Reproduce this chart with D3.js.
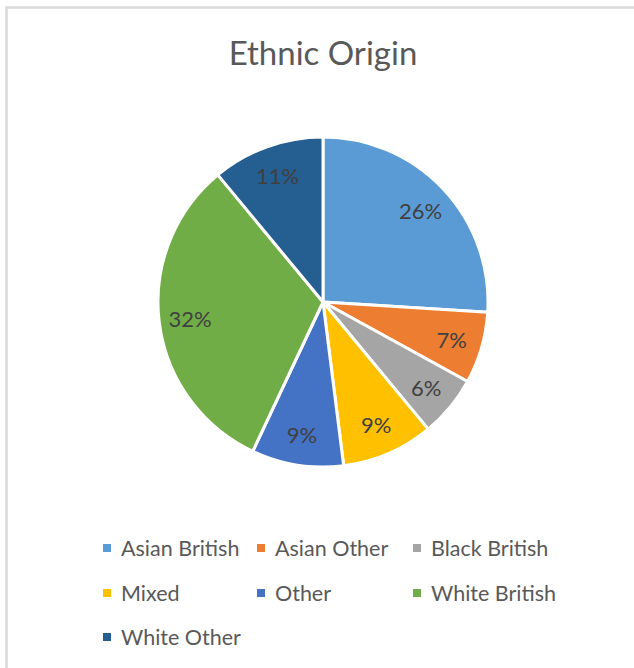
<!DOCTYPE html>
<html>
<head>
<meta charset="utf-8">
<script src="https://cdn.jsdelivr.net/npm/d3@7"></script>
<style>
  html, body { margin: 0; padding: 0; background: #fff; }
  svg { display: block; }
</style>
</head>
<body>
<div id="chart"></div>
<script>
// data
const categories = ["Asian British", "Asian Other", "Black British", "Mixed", "Other", "White British", "White Other"];
const shares = [26, 7, 6, 9, 9, 32, 11];
const colors = ["#5B9BD5", "#ED7D31", "#A5A5A5", "#FFC000", "#4472C4", "#70AD47", "#255E91"];

const width = 634;
const height = 668;
const cx = 323, cy = 302, radius = 165;

const svg = d3.select("#chart")
    .append("svg")
    .attr("width", width)
    .attr("height", height);

// chart frame (cropped, runs off right and bottom)
svg.append("rect")
    .attr("x", 6.5)
    .attr("y", 7.5)
    .attr("width", 800)
    .attr("height", 800)
    .attr("fill", "none")
    .attr("stroke", "#d9d9d9")
    .attr("stroke-width", 2.5);

// title
svg.append("text")
    .attr("x", cx)
    .attr("y", 65)
    .attr("text-anchor", "middle")
    .style("font-family", "Lato, 'Open Sans', sans-serif")
    .style("font-size", "33px")
    .style("fill", "#595959")
    .text("Ethnic Origin");

const data = categories.map((c, i) => ({ category: c, value: shares[i] }));
const color = d3.scaleOrdinal().domain(categories).range(colors);

const pie = d3.pie().sort(null).value(d => d.value);
const arc = d3.arc().innerRadius(0).outerRadius(radius);
const labelArc = d3.arc().innerRadius(134).outerRadius(134);

const g = svg.append("g").attr("transform", `translate(${cx},${cy})`);

g.selectAll("path")
    .data(pie(data))
    .enter()
    .append("path")
    .attr("d", arc)
    .attr("fill", d => color(d.data.category))
    .attr("stroke", "#fff")
    .attr("stroke-width", 3)
    .attr("stroke-linejoin", "round");

g.selectAll(".slice-label")
    .data(pie(data))
    .enter()
    .append("text")
    .attr("class", "slice-label")
    .attr("x", d => labelArc.centroid(d)[0])
    .attr("y", d => labelArc.centroid(d)[1])
    .attr("text-anchor", "middle")
    .attr("dominant-baseline", "central")
    .style("font-family", "Lato, 'Open Sans', sans-serif")
    .style("font-size", "22px")
    .style("fill", "#404040")
    .text(d => d.data.value + "%");

// legend, three per row
const colX = [103, 257, 413];
const rowY = [548, 593, 637];

const legend = svg.selectAll(".legend-item")
    .data(data)
    .enter()
    .append("g")
    .attr("class", "legend-item")
    .attr("transform", (d, i) => `translate(${colX[i % 3]},${rowY[Math.floor(i / 3)]})`);

legend.append("rect")
    .attr("x", 0)
    .attr("y", -4)
    .attr("width", 8)
    .attr("height", 8)
    .attr("fill", d => color(d.category));

legend.append("text")
    .attr("x", 18)
    .attr("y", 0)
    .attr("dominant-baseline", "central")
    .style("font-family", "Lato, 'Open Sans', sans-serif")
    .style("font-size", "21.5px")
    .style("fill", "#595959")
    .text(d => d.category);
</script>
</body>
</html>
